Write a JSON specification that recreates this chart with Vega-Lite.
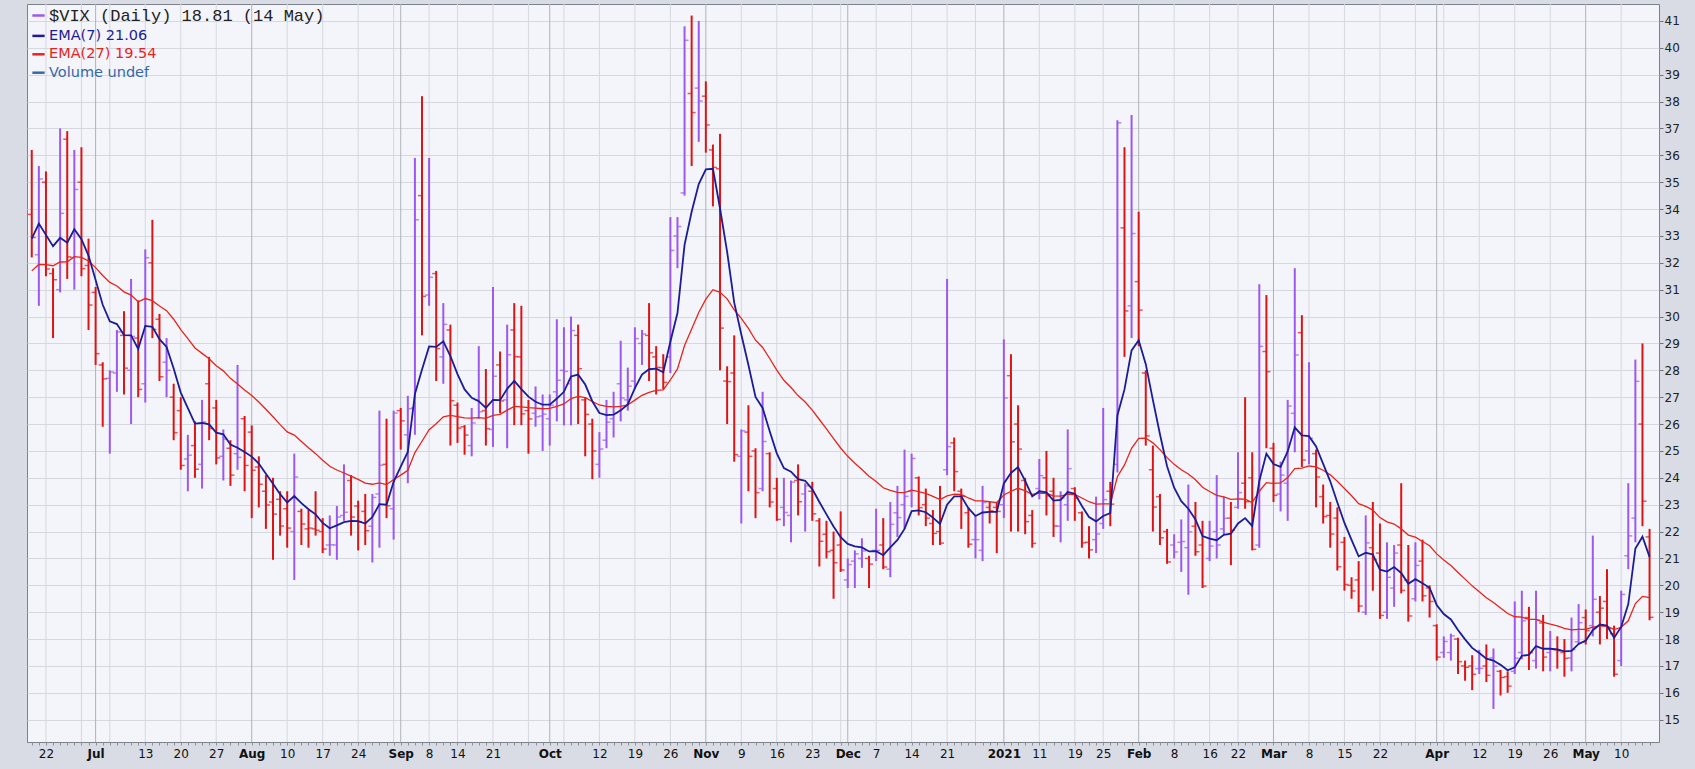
{
"$schema": "https://vega.github.io/schema/vega-lite/v6.json",
"width": 1632, "height": 738,
"autosize": {"type": "none"},
"padding": {"left": 27, "right": 36, "top": 4, "bottom": 27},
"background": "#d9dce4",
"config": {"view": {"fill": "#f4f5fa", "stroke": "#7d8188", "strokeWidth": 1}, "font": "DejaVu Sans"},
"datasets": {
"grid": [
{"d":"2020-06-22","k":"w"},{"d":"2020-06-29","k":"w"},{"d":"2020-07-01","k":"m"},{"d":"2020-07-06","k":"w"},{"d":"2020-07-13","k":"w"},{"d":"2020-07-20","k":"w"},{"d":"2020-07-27","k":"w"},{"d":"2020-08-03","k":"m"},{"d":"2020-08-10","k":"w"},{"d":"2020-08-17","k":"w"},{"d":"2020-08-24","k":"w"},{"d":"2020-08-31","k":"w"},{"d":"2020-09-01","k":"m"},{"d":"2020-09-08","k":"w"},{"d":"2020-09-14","k":"w"},{"d":"2020-09-21","k":"w"},{"d":"2020-09-28","k":"w"},{"d":"2020-10-01","k":"m"},{"d":"2020-10-05","k":"w"},{"d":"2020-10-12","k":"w"},{"d":"2020-10-19","k":"w"},{"d":"2020-10-26","k":"w"},{"d":"2020-11-02","k":"m"},{"d":"2020-11-09","k":"w"},{"d":"2020-11-16","k":"w"},{"d":"2020-11-23","k":"w"},{"d":"2020-11-30","k":"w"},{"d":"2020-12-01","k":"m"},{"d":"2020-12-07","k":"w"},{"d":"2020-12-14","k":"w"},{"d":"2020-12-21","k":"w"},{"d":"2020-12-28","k":"w"},{"d":"2021-01-04","k":"m"},{"d":"2021-01-11","k":"w"},{"d":"2021-01-19","k":"w"},{"d":"2021-01-25","k":"w"},{"d":"2021-02-01","k":"m"},{"d":"2021-02-08","k":"w"},{"d":"2021-02-16","k":"w"},{"d":"2021-02-22","k":"w"},{"d":"2021-03-01","k":"m"},{"d":"2021-03-08","k":"w"},{"d":"2021-03-15","k":"w"},{"d":"2021-03-22","k":"w"},{"d":"2021-03-29","k":"w"},{"d":"2021-04-01","k":"m"},{"d":"2021-04-05","k":"w"},{"d":"2021-04-12","k":"w"},{"d":"2021-04-19","k":"w"},{"d":"2021-04-26","k":"w"},{"d":"2021-05-03","k":"m"},{"d":"2021-05-10","k":"w"}
],
"vix": [
{"d":"2020-06-18","o":33.8,"h":36.2,"l":32.2,"c":32.94,"e7":32.90,"e27":31.70},
{"d":"2020-06-19","o":32.3,"h":35.6,"l":30.4,"c":35.12,"e7":33.46,"e27":31.94},
{"d":"2020-06-22","o":35.0,"h":35.4,"l":31.5,"c":31.77,"e7":33.04,"e27":31.93},
{"d":"2020-06-23","o":31.6,"h":31.8,"l":29.2,"c":31.37,"e7":32.62,"e27":31.89},
{"d":"2020-06-24","o":31.0,"h":37.0,"l":30.9,"c":33.84,"e7":32.93,"e27":32.03},
{"d":"2020-06-25","o":36.6,"h":36.9,"l":31.4,"c":32.22,"e7":32.75,"e27":32.04},
{"d":"2020-06-26","o":32.2,"h":36.2,"l":31.0,"c":34.73,"e7":33.25,"e27":32.23},
{"d":"2020-06-29","o":35.0,"h":36.3,"l":31.5,"c":31.78,"e7":32.88,"e27":32.20},
{"d":"2020-06-30","o":31.9,"h":32.9,"l":29.5,"c":30.43,"e7":32.27,"e27":32.07},
{"d":"2020-07-01","o":30.9,"h":31.1,"l":28.2,"c":28.62,"e7":31.36,"e27":31.82},
{"d":"2020-07-02","o":28.2,"h":28.3,"l":25.9,"c":27.68,"e7":30.44,"e27":31.53},
{"d":"2020-07-06","o":27.7,"h":28.0,"l":24.9,"c":27.94,"e7":29.82,"e27":31.27},
{"d":"2020-07-07","o":27.9,"h":29.5,"l":27.2,"c":29.43,"e7":29.72,"e27":31.14},
{"d":"2020-07-08","o":29.3,"h":30.2,"l":27.1,"c":28.08,"e7":29.31,"e27":30.92},
{"d":"2020-07-09","o":28.0,"h":31.4,"l":26.0,"c":29.26,"e7":29.30,"e27":30.80},
{"d":"2020-07-10","o":29.2,"h":30.6,"l":27.0,"c":27.29,"e7":28.80,"e27":30.55},
{"d":"2020-07-13","o":27.5,"h":32.5,"l":26.8,"c":32.19,"e7":29.65,"e27":30.67},
{"d":"2020-07-14","o":32.0,"h":33.6,"l":29.2,"c":29.52,"e7":29.62,"e27":30.59},
{"d":"2020-07-15","o":29.9,"h":30.1,"l":27.6,"c":27.76,"e7":29.16,"e27":30.39},
{"d":"2020-07-16","o":28.3,"h":29.2,"l":27.0,"c":28.00,"e7":28.87,"e27":30.22},
{"d":"2020-07-17","o":27.0,"h":27.5,"l":25.4,"c":25.68,"e7":28.07,"e27":29.90},
{"d":"2020-07-20","o":26.5,"h":27.0,"l":24.3,"c":24.46,"e7":27.17,"e27":29.51},
{"d":"2020-07-21","o":24.7,"h":25.6,"l":23.5,"c":24.84,"e7":26.59,"e27":29.18},
{"d":"2020-07-22","o":25.2,"h":26.1,"l":24.0,"c":24.32,"e7":26.02,"e27":28.83},
{"d":"2020-07-23","o":24.5,"h":26.9,"l":23.6,"c":26.08,"e7":26.04,"e27":28.63},
{"d":"2020-07-24","o":27.5,"h":28.5,"l":25.4,"c":25.84,"e7":25.99,"e27":28.43},
{"d":"2020-07-27","o":26.6,"h":26.9,"l":24.5,"c":24.74,"e7":25.68,"e27":28.17},
{"d":"2020-07-28","o":24.8,"h":25.8,"l":23.9,"c":25.44,"e7":25.62,"e27":27.98},
{"d":"2020-07-29","o":25.1,"h":25.4,"l":23.7,"c":24.10,"e7":25.24,"e27":27.70},
{"d":"2020-07-30","o":24.9,"h":28.2,"l":24.3,"c":24.76,"e7":25.12,"e27":27.49},
{"d":"2020-07-31","o":26.2,"h":26.3,"l":23.5,"c":24.46,"e7":24.96,"e27":27.27},
{"d":"2020-08-03","o":25.7,"h":25.95,"l":22.5,"c":24.28,"e7":24.79,"e27":27.06},
{"d":"2020-08-04","o":24.4,"h":24.8,"l":22.9,"c":23.76,"e7":24.53,"e27":26.82},
{"d":"2020-08-05","o":23.5,"h":24.1,"l":22.1,"c":22.99,"e7":24.15,"e27":26.55},
{"d":"2020-08-06","o":23.1,"h":24.0,"l":20.95,"c":22.65,"e7":23.78,"e27":26.27},
{"d":"2020-08-07","o":23.2,"h":23.5,"l":21.85,"c":22.21,"e7":23.39,"e27":25.98},
{"d":"2020-08-10","o":22.85,"h":23.5,"l":21.4,"c":22.13,"e7":23.08,"e27":25.71},
{"d":"2020-08-11","o":22.0,"h":24.9,"l":20.2,"c":24.03,"e7":23.32,"e27":25.59},
{"d":"2020-08-12","o":22.75,"h":22.85,"l":21.5,"c":22.28,"e7":23.06,"e27":25.35},
{"d":"2020-08-13","o":22.1,"h":22.8,"l":21.4,"c":22.13,"e7":22.83,"e27":25.12},
{"d":"2020-08-14","o":22.1,"h":23.5,"l":21.85,"c":22.05,"e7":22.64,"e27":24.90},
{"d":"2020-08-17","o":22.0,"h":22.5,"l":21.2,"c":21.35,"e7":22.32,"e27":24.65},
{"d":"2020-08-18","o":21.5,"h":22.6,"l":21.1,"c":21.51,"e7":22.12,"e27":24.43},
{"d":"2020-08-19","o":21.5,"h":22.95,"l":20.95,"c":22.54,"e7":22.23,"e27":24.29},
{"d":"2020-08-20","o":22.6,"h":24.5,"l":22.4,"c":22.72,"e7":22.35,"e27":24.18},
{"d":"2020-08-21","o":23.9,"h":24.1,"l":21.85,"c":22.54,"e7":22.40,"e27":24.06},
{"d":"2020-08-24","o":22.95,"h":23.15,"l":21.3,"c":22.37,"e7":22.39,"e27":23.94},
{"d":"2020-08-25","o":22.75,"h":23.4,"l":21.5,"c":22.03,"e7":22.30,"e27":23.80},
{"d":"2020-08-26","o":22.2,"h":23.4,"l":20.85,"c":23.27,"e7":22.54,"e27":23.76},
{"d":"2020-08-27","o":23.4,"h":26.5,"l":21.4,"c":24.47,"e7":23.02,"e27":23.81},
{"d":"2020-08-28","o":24.5,"h":26.2,"l":22.5,"c":22.96,"e7":23.00,"e27":23.75},
{"d":"2020-08-31","o":22.85,"h":26.5,"l":21.7,"c":26.41,"e7":23.85,"e27":23.94},
{"d":"2020-09-01","o":26.5,"h":26.6,"l":25.05,"c":26.12,"e7":24.42,"e27":24.10},
{"d":"2020-09-02","o":25.6,"h":27.05,"l":23.8,"c":26.57,"e7":24.96,"e27":24.28},
{"d":"2020-09-03","o":26.6,"h":35.9,"l":25.6,"c":33.60,"e7":27.12,"e27":24.94},
{"d":"2020-09-04","o":34.5,"h":38.2,"l":29.3,"c":30.75,"e7":28.03,"e27":25.36},
{"d":"2020-09-08","o":30.8,"h":35.9,"l":30.4,"c":31.46,"e7":28.89,"e27":25.79},
{"d":"2020-09-09","o":31.6,"h":31.7,"l":27.6,"c":28.81,"e7":28.87,"e27":26.01},
{"d":"2020-09-10","o":28.5,"h":30.5,"l":27.5,"c":29.71,"e7":29.08,"e27":26.27},
{"d":"2020-09-11","o":29.5,"h":29.7,"l":25.2,"c":26.87,"e7":28.53,"e27":26.32},
{"d":"2020-09-14","o":26.7,"h":26.8,"l":25.3,"c":25.85,"e7":27.86,"e27":26.28},
{"d":"2020-09-15","o":25.9,"h":25.96,"l":24.86,"c":25.59,"e7":27.29,"e27":26.23},
{"d":"2020-09-16","o":25.2,"h":26.6,"l":24.8,"c":26.04,"e7":26.98,"e27":26.22},
{"d":"2020-09-17","o":26.9,"h":28.9,"l":26.2,"c":26.46,"e7":26.85,"e27":26.24},
{"d":"2020-09-18","o":26.5,"h":28.05,"l":25.2,"c":25.83,"e7":26.60,"e27":26.21},
{"d":"2020-09-21","o":25.8,"h":31.1,"l":25.15,"c":27.78,"e7":26.90,"e27":26.32},
{"d":"2020-09-22","o":28.2,"h":28.7,"l":26.4,"c":26.86,"e7":26.89,"e27":26.36},
{"d":"2020-09-23","o":26.9,"h":29.7,"l":25.1,"c":28.58,"e7":27.31,"e27":26.52},
{"d":"2020-09-24","o":29.5,"h":30.5,"l":25.96,"c":28.51,"e7":27.61,"e27":26.66},
{"d":"2020-09-25","o":28.5,"h":30.4,"l":25.96,"c":26.38,"e7":27.30,"e27":26.64},
{"d":"2020-09-28","o":26.5,"h":26.9,"l":24.9,"c":26.19,"e7":27.02,"e27":26.61},
{"d":"2020-09-29","o":26.4,"h":27.4,"l":25.9,"c":26.27,"e7":26.83,"e27":26.59},
{"d":"2020-09-30","o":26.3,"h":27.1,"l":25.0,"c":26.37,"e7":26.72,"e27":26.57},
{"d":"2020-10-01","o":26.2,"h":27.1,"l":25.2,"c":26.70,"e7":26.72,"e27":26.58},
{"d":"2020-10-02","o":27.2,"h":29.9,"l":26.1,"c":27.63,"e7":26.95,"e27":26.66},
{"d":"2020-10-05","o":28.0,"h":29.6,"l":25.95,"c":27.96,"e7":27.20,"e27":26.75},
{"d":"2020-10-06","o":27.5,"h":30.0,"l":25.95,"c":29.48,"e7":27.77,"e27":26.95},
{"d":"2020-10-07","o":29.3,"h":29.7,"l":26.0,"c":28.06,"e7":27.84,"e27":27.03},
{"d":"2020-10-08","o":26.9,"h":27.0,"l":24.8,"c":26.36,"e7":27.47,"e27":26.98},
{"d":"2020-10-09","o":26.0,"h":26.2,"l":23.95,"c":25.00,"e7":26.85,"e27":26.84},
{"d":"2020-10-12","o":24.5,"h":25.7,"l":24.0,"c":25.07,"e7":26.41,"e27":26.71},
{"d":"2020-10-13","o":25.4,"h":26.9,"l":25.1,"c":26.07,"e7":26.33,"e27":26.66},
{"d":"2020-10-14","o":26.2,"h":27.2,"l":25.5,"c":26.40,"e7":26.35,"e27":26.64},
{"d":"2020-10-15","o":27.5,"h":29.1,"l":26.1,"c":26.97,"e7":26.51,"e27":26.66},
{"d":"2020-10-16","o":26.9,"h":28.1,"l":26.5,"c":27.41,"e7":26.73,"e27":26.71},
{"d":"2020-10-19","o":27.6,"h":29.6,"l":27.3,"c":29.18,"e7":27.34,"e27":26.89},
{"d":"2020-10-20","o":29.0,"h":29.5,"l":28.2,"c":29.35,"e7":27.84,"e27":27.07},
{"d":"2020-10-21","o":29.3,"h":30.5,"l":27.6,"c":28.65,"e7":28.04,"e27":27.18},
{"d":"2020-10-22","o":28.5,"h":28.9,"l":27.1,"c":28.11,"e7":28.06,"e27":27.25},
{"d":"2020-10-23","o":28.1,"h":28.6,"l":27.3,"c":27.55,"e7":27.93,"e27":27.27},
{"d":"2020-10-26","o":28.5,"h":33.7,"l":27.9,"c":32.46,"e7":29.06,"e27":27.64},
{"d":"2020-10-27","o":33.0,"h":33.7,"l":31.8,"c":33.35,"e7":30.13,"e27":28.05},
{"d":"2020-10-28","o":34.6,"h":40.8,"l":34.5,"c":40.28,"e7":32.67,"e27":28.92},
{"d":"2020-10-29","o":38.3,"h":41.2,"l":35.6,"c":37.59,"e7":33.90,"e27":29.54},
{"d":"2020-10-30","o":38.5,"h":41.0,"l":36.5,"c":38.02,"e7":34.93,"e27":30.15},
{"d":"2020-11-02","o":38.2,"h":38.75,"l":36.1,"c":37.13,"e7":35.48,"e27":30.65},
{"d":"2020-11-03","o":36.2,"h":36.4,"l":34.1,"c":35.55,"e7":35.50,"e27":31.00},
{"d":"2020-11-04","o":35.5,"h":36.8,"l":28.0,"c":29.57,"e7":34.02,"e27":30.90},
{"d":"2020-11-05","o":27.6,"h":28.15,"l":26.0,"c":27.58,"e7":32.41,"e27":30.66},
{"d":"2020-11-06","o":27.9,"h":29.3,"l":24.6,"c":24.86,"e7":30.52,"e27":30.25},
{"d":"2020-11-09","o":24.8,"h":25.8,"l":22.3,"c":25.75,"e7":29.33,"e27":29.93},
{"d":"2020-11-10","o":25.7,"h":26.7,"l":23.5,"c":24.80,"e7":28.20,"e27":29.56},
{"d":"2020-11-11","o":25.0,"h":25.1,"l":22.5,"c":23.45,"e7":27.01,"e27":29.12},
{"d":"2020-11-12","o":23.6,"h":27.2,"l":23.5,"c":25.35,"e7":26.60,"e27":28.85},
{"d":"2020-11-13","o":24.9,"h":24.95,"l":22.9,"c":23.10,"e7":25.73,"e27":28.44},
{"d":"2020-11-16","o":23.6,"h":24.0,"l":22.4,"c":22.45,"e7":24.91,"e27":28.01},
{"d":"2020-11-17","o":22.9,"h":24.0,"l":22.2,"c":22.71,"e7":24.36,"e27":27.63},
{"d":"2020-11-18","o":22.6,"h":23.9,"l":21.6,"c":23.84,"e7":24.23,"e27":27.36},
{"d":"2020-11-19","o":23.9,"h":24.5,"l":22.6,"c":23.11,"e7":23.95,"e27":27.06},
{"d":"2020-11-20","o":23.4,"h":23.8,"l":22.0,"c":23.70,"e7":23.89,"e27":26.82},
{"d":"2020-11-23","o":23.5,"h":23.85,"l":22.4,"c":22.66,"e7":23.58,"e27":26.52},
{"d":"2020-11-24","o":22.4,"h":22.5,"l":20.7,"c":21.64,"e7":23.10,"e27":26.17},
{"d":"2020-11-25","o":21.9,"h":22.4,"l":21.0,"c":21.25,"e7":22.64,"e27":25.82},
{"d":"2020-11-27","o":21.3,"h":22.0,"l":19.5,"c":20.84,"e7":22.19,"e27":25.46},
{"d":"2020-11-30","o":21.5,"h":22.75,"l":20.5,"c":20.57,"e7":21.79,"e27":25.11},
{"d":"2020-12-01","o":20.2,"h":21.0,"l":19.9,"c":20.77,"e7":21.54,"e27":24.80},
{"d":"2020-12-02","o":20.9,"h":21.3,"l":19.9,"c":21.17,"e7":21.45,"e27":24.54},
{"d":"2020-12-03","o":21.0,"h":21.75,"l":20.65,"c":21.28,"e7":21.41,"e27":24.31},
{"d":"2020-12-04","o":21.0,"h":21.1,"l":19.9,"c":20.79,"e7":21.26,"e27":24.06},
{"d":"2020-12-07","o":21.3,"h":22.85,"l":20.9,"c":21.30,"e7":21.27,"e27":23.86},
{"d":"2020-12-08","o":21.5,"h":22.5,"l":20.6,"c":20.68,"e7":21.12,"e27":23.63},
{"d":"2020-12-09","o":20.6,"h":23.1,"l":20.3,"c":22.27,"e7":21.41,"e27":23.53},
{"d":"2020-12-10","o":22.7,"h":23.7,"l":21.8,"c":22.52,"e7":21.69,"e27":23.46},
{"d":"2020-12-11","o":23.0,"h":25.05,"l":22.1,"c":23.31,"e7":22.10,"e27":23.45},
{"d":"2020-12-14","o":23.5,"h":24.9,"l":22.9,"c":24.72,"e7":22.76,"e27":23.54},
{"d":"2020-12-15","o":24.0,"h":24.05,"l":22.6,"c":22.89,"e7":22.79,"e27":23.49},
{"d":"2020-12-16","o":23.0,"h":23.6,"l":22.2,"c":22.50,"e7":22.72,"e27":23.42},
{"d":"2020-12-17","o":22.3,"h":22.8,"l":21.5,"c":21.93,"e7":22.52,"e27":23.31},
{"d":"2020-12-18","o":22.0,"h":23.7,"l":21.5,"c":21.57,"e7":22.28,"e27":23.19},
{"d":"2020-12-21","o":24.3,"h":31.4,"l":24.1,"c":25.16,"e7":23.00,"e27":23.33},
{"d":"2020-12-22","o":25.3,"h":25.5,"l":23.5,"c":24.23,"e7":23.31,"e27":23.39},
{"d":"2020-12-23","o":23.5,"h":23.6,"l":22.1,"c":23.31,"e7":23.31,"e27":23.38},
{"d":"2020-12-24","o":22.7,"h":22.9,"l":21.4,"c":21.53,"e7":22.87,"e27":23.25},
{"d":"2020-12-28","o":21.7,"h":22.6,"l":21.0,"c":21.70,"e7":22.58,"e27":23.14},
{"d":"2020-12-29","o":21.3,"h":23.7,"l":20.9,"c":23.08,"e7":22.71,"e27":23.14},
{"d":"2020-12-30","o":22.9,"h":23.1,"l":22.3,"c":22.77,"e7":22.73,"e27":23.11},
{"d":"2020-12-31","o":22.9,"h":23.1,"l":21.2,"c":22.75,"e7":22.73,"e27":23.08},
{"d":"2021-01-04","o":23.0,"h":29.15,"l":22.5,"c":26.97,"e7":23.79,"e27":23.36},
{"d":"2021-01-05","o":27.8,"h":28.6,"l":22.0,"c":25.34,"e7":24.18,"e27":23.50},
{"d":"2021-01-06","o":26.0,"h":26.7,"l":22.0,"c":25.07,"e7":24.40,"e27":23.61},
{"d":"2021-01-07","o":23.9,"h":24.0,"l":21.9,"c":22.37,"e7":23.89,"e27":23.52},
{"d":"2021-01-08","o":22.6,"h":22.8,"l":21.4,"c":21.56,"e7":23.31,"e27":23.38},
{"d":"2021-01-11","o":23.6,"h":24.7,"l":23.2,"c":24.08,"e7":23.50,"e27":23.43},
{"d":"2021-01-12","o":24.0,"h":25.0,"l":22.6,"c":23.33,"e7":23.46,"e27":23.42},
{"d":"2021-01-13","o":23.5,"h":24.0,"l":21.8,"c":22.21,"e7":23.15,"e27":23.33},
{"d":"2021-01-14","o":22.2,"h":23.5,"l":21.6,"c":23.25,"e7":23.18,"e27":23.32},
{"d":"2021-01-15","o":23.0,"h":25.8,"l":22.4,"c":24.34,"e7":23.47,"e27":23.39},
{"d":"2021-01-19","o":23.6,"h":23.65,"l":22.4,"c":23.24,"e7":23.41,"e27":23.38},
{"d":"2021-01-20","o":22.7,"h":22.75,"l":21.4,"c":21.58,"e7":22.95,"e27":23.25},
{"d":"2021-01-21","o":21.6,"h":22.2,"l":21.0,"c":21.32,"e7":22.54,"e27":23.11},
{"d":"2021-01-22","o":21.7,"h":23.3,"l":21.2,"c":21.91,"e7":22.38,"e27":23.02},
{"d":"2021-01-25","o":22.3,"h":26.6,"l":22.1,"c":23.19,"e7":22.58,"e27":23.03},
{"d":"2021-01-26","o":23.5,"h":23.85,"l":22.2,"c":23.02,"e7":22.69,"e27":23.03},
{"d":"2021-01-27","o":24.5,"h":37.3,"l":24.2,"c":37.21,"e7":26.32,"e27":24.04},
{"d":"2021-01-28","o":33.3,"h":36.3,"l":28.5,"c":30.21,"e7":27.29,"e27":24.48},
{"d":"2021-01-29","o":30.4,"h":37.5,"l":29.2,"c":33.09,"e7":28.74,"e27":25.10},
{"d":"2021-02-01","o":31.3,"h":33.9,"l":28.9,"c":30.24,"e7":29.12,"e27":25.47},
{"d":"2021-02-02","o":27.9,"h":28.0,"l":25.2,"c":25.56,"e7":28.23,"e27":25.48},
{"d":"2021-02-03","o":24.3,"h":25.2,"l":22.0,"c":22.91,"e7":26.90,"e27":25.30},
{"d":"2021-02-04","o":23.3,"h":23.4,"l":21.5,"c":21.77,"e7":25.62,"e27":25.05},
{"d":"2021-02-05","o":22.0,"h":22.1,"l":20.8,"c":20.87,"e7":24.43,"e27":24.75},
{"d":"2021-02-08","o":21.5,"h":21.9,"l":21.0,"c":21.24,"e7":23.63,"e27":24.50},
{"d":"2021-02-09","o":21.6,"h":22.45,"l":20.5,"c":21.63,"e7":23.13,"e27":24.30},
{"d":"2021-02-10","o":21.4,"h":23.75,"l":19.65,"c":21.99,"e7":22.85,"e27":24.14},
{"d":"2021-02-11","o":22.2,"h":23.1,"l":21.1,"c":21.25,"e7":22.45,"e27":23.93},
{"d":"2021-02-12","o":21.5,"h":22.4,"l":19.9,"c":19.97,"e7":21.83,"e27":23.65},
{"d":"2021-02-16","o":21.0,"h":22.4,"l":20.9,"c":21.46,"e7":21.74,"e27":23.49},
{"d":"2021-02-17","o":22.0,"h":24.1,"l":21.0,"c":21.50,"e7":21.68,"e27":23.35},
{"d":"2021-02-18","o":22.1,"h":23.3,"l":21.9,"c":22.49,"e7":21.88,"e27":23.29},
{"d":"2021-02-19","o":22.5,"h":23.1,"l":20.75,"c":22.05,"e7":21.92,"e27":23.20},
{"d":"2021-02-22","o":22.9,"h":24.95,"l":22.85,"c":23.45,"e7":22.30,"e27":23.22},
{"d":"2021-02-23","o":23.8,"h":27.0,"l":22.85,"c":23.11,"e7":22.50,"e27":23.21},
{"d":"2021-02-24","o":24.0,"h":24.95,"l":21.3,"c":21.34,"e7":22.21,"e27":23.08},
{"d":"2021-02-25","o":21.5,"h":31.2,"l":21.4,"c":28.89,"e7":23.88,"e27":23.50},
{"d":"2021-02-26","o":28.7,"h":30.8,"l":25.1,"c":27.95,"e7":24.90,"e27":23.82},
{"d":"2021-03-01","o":25.1,"h":25.3,"l":23.1,"c":23.35,"e7":24.51,"e27":23.79},
{"d":"2021-03-02","o":23.4,"h":24.6,"l":22.75,"c":24.10,"e7":24.41,"e27":23.81},
{"d":"2021-03-03","o":23.8,"h":26.9,"l":22.4,"c":26.67,"e7":24.98,"e27":24.01},
{"d":"2021-03-04","o":26.4,"h":31.8,"l":24.95,"c":28.57,"e7":25.88,"e27":24.34},
{"d":"2021-03-05","o":29.4,"h":30.05,"l":24.4,"c":24.66,"e7":25.58,"e27":24.36},
{"d":"2021-03-08","o":25.0,"h":28.3,"l":24.5,"c":25.47,"e7":25.55,"e27":24.44},
{"d":"2021-03-09","o":24.9,"h":25.05,"l":22.9,"c":24.03,"e7":25.17,"e27":24.41},
{"d":"2021-03-10","o":23.3,"h":23.75,"l":22.3,"c":22.56,"e7":24.52,"e27":24.28},
{"d":"2021-03-11","o":22.6,"h":23.1,"l":21.4,"c":21.91,"e7":23.87,"e27":24.11},
{"d":"2021-03-12","o":22.5,"h":22.9,"l":20.55,"c":20.69,"e7":23.08,"e27":23.87},
{"d":"2021-03-15","o":21.6,"h":21.8,"l":19.8,"c":20.03,"e7":22.32,"e27":23.60},
{"d":"2021-03-16","o":20.0,"h":20.3,"l":19.5,"c":19.79,"e7":21.69,"e27":23.33},
{"d":"2021-03-17","o":20.2,"h":20.9,"l":19.0,"c":19.23,"e7":21.08,"e27":23.04},
{"d":"2021-03-18","o":19.0,"h":22.6,"l":18.9,"c":21.58,"e7":21.21,"e27":22.94},
{"d":"2021-03-19","o":21.4,"h":23.1,"l":19.8,"c":20.95,"e7":21.15,"e27":22.80},
{"d":"2021-03-22","o":21.2,"h":22.3,"l":18.75,"c":18.88,"e7":20.58,"e27":22.52},
{"d":"2021-03-23","o":19.0,"h":21.6,"l":18.75,"c":20.30,"e7":20.51,"e27":22.36},
{"d":"2021-03-24","o":19.9,"h":21.5,"l":19.2,"c":21.20,"e7":20.68,"e27":22.28},
{"d":"2021-03-25","o":21.5,"h":23.8,"l":19.7,"c":19.81,"e7":20.46,"e27":22.10},
{"d":"2021-03-26","o":20.2,"h":21.5,"l":18.65,"c":18.86,"e7":20.06,"e27":21.87},
{"d":"2021-03-29","o":19.5,"h":21.6,"l":19.4,"c":20.74,"e7":20.23,"e27":21.79},
{"d":"2021-03-30","o":20.9,"h":21.7,"l":19.4,"c":19.61,"e7":20.08,"e27":21.63},
{"d":"2021-03-31","o":19.9,"h":20.0,"l":18.8,"c":19.40,"e7":19.91,"e27":21.47},
{"d":"2021-04-01","o":18.5,"h":18.55,"l":17.2,"c":17.33,"e7":19.27,"e27":21.17},
{"d":"2021-04-05","o":17.5,"h":18.1,"l":17.3,"c":17.91,"e7":18.93,"e27":20.94},
{"d":"2021-04-06","o":17.5,"h":18.2,"l":17.2,"c":18.12,"e7":18.73,"e27":20.74},
{"d":"2021-04-07","o":18.0,"h":18.05,"l":16.7,"c":17.16,"e7":18.34,"e27":20.48},
{"d":"2021-04-08","o":17.0,"h":17.2,"l":16.45,"c":16.95,"e7":17.99,"e27":20.23},
{"d":"2021-04-09","o":17.0,"h":17.4,"l":16.1,"c":16.69,"e7":17.67,"e27":19.98},
{"d":"2021-04-12","o":16.9,"h":17.6,"l":16.7,"c":16.91,"e7":17.48,"e27":19.76},
{"d":"2021-04-13","o":17.0,"h":17.8,"l":16.4,"c":16.65,"e7":17.27,"e27":19.54},
{"d":"2021-04-14","o":17.3,"h":17.65,"l":15.4,"c":16.99,"e7":17.20,"e27":19.36},
{"d":"2021-04-15","o":16.8,"h":16.85,"l":15.9,"c":16.57,"e7":17.04,"e27":19.16},
{"d":"2021-04-16","o":16.6,"h":16.8,"l":16.0,"c":16.25,"e7":16.84,"e27":18.95},
{"d":"2021-04-19","o":16.8,"h":19.4,"l":16.7,"c":17.29,"e7":16.95,"e27":18.83},
{"d":"2021-04-20","o":17.5,"h":19.8,"l":17.25,"c":18.68,"e7":17.38,"e27":18.82},
{"d":"2021-04-21","o":18.8,"h":19.2,"l":16.85,"c":17.50,"e7":17.41,"e27":18.73},
{"d":"2021-04-22","o":17.2,"h":19.8,"l":16.9,"c":18.71,"e7":17.74,"e27":18.73},
{"d":"2021-04-23","o":18.6,"h":18.9,"l":16.8,"c":17.33,"e7":17.64,"e27":18.63},
{"d":"2021-04-26","o":17.5,"h":18.3,"l":16.8,"c":17.64,"e7":17.64,"e27":18.56},
{"d":"2021-04-27","o":17.6,"h":18.1,"l":16.9,"c":17.56,"e7":17.62,"e27":18.49},
{"d":"2021-04-28","o":17.5,"h":18.0,"l":16.6,"c":17.28,"e7":17.54,"e27":18.40},
{"d":"2021-04-29","o":17.3,"h":18.8,"l":16.8,"c":17.61,"e7":17.56,"e27":18.34},
{"d":"2021-04-30","o":17.9,"h":19.3,"l":17.8,"c":18.61,"e7":17.82,"e27":18.36},
{"d":"2021-05-03","o":18.8,"h":19.1,"l":17.8,"c":18.31,"e7":17.94,"e27":18.36},
{"d":"2021-05-04","o":18.5,"h":21.85,"l":18.1,"c":19.48,"e7":18.33,"e27":18.44},
{"d":"2021-05-05","o":19.0,"h":19.6,"l":17.8,"c":19.15,"e7":18.54,"e27":18.49},
{"d":"2021-05-06","o":19.4,"h":20.6,"l":18.0,"c":18.39,"e7":18.50,"e27":18.48},
{"d":"2021-05-07","o":18.2,"h":18.5,"l":16.6,"c":16.69,"e7":18.05,"e27":18.35},
{"d":"2021-05-10","o":17.2,"h":19.8,"l":17.0,"c":19.66,"e7":18.45,"e27":18.44},
{"d":"2021-05-11","o":21.1,"h":23.8,"l":20.6,"c":21.84,"e7":19.30,"e27":18.68},
{"d":"2021-05-12","o":22.5,"h":28.4,"l":21.6,"c":27.59,"e7":21.37,"e27":19.32},
{"d":"2021-05-13","o":26.0,"h":29.0,"l":22.2,"c":23.13,"e7":21.81,"e27":19.59},
{"d":"2021-05-14","o":21.8,"h":22.1,"l":18.7,"c":18.81,"e7":21.06,"e27":19.54}
]
},
"layer": [
{
"data": {"name": "grid"},
"mark": {"type": "rule", "strokeWidth": 1},
"encoding": {
"x": {"field": "d", "type": "ordinal",
"scale": {"type": "point", "padding": 1.093, "align": 0.335},
"axis": {"title": null, "orient": "bottom", "domain": false, "grid": false, "ticks": true, "tickSize": 3, "tickColor": "#8c9098", "labelOverlap": false, "labelAngle": 0, "labelPadding": 3, "labelFont": "DejaVu Sans", "labelFontSize": 12, "labelColor": "#111111",
"labelExpr": "{'2020-06-22':'22','2020-07-01':'Jul','2020-07-13':'13','2020-07-20':'20','2020-07-27':'27','2020-08-03':'Aug','2020-08-10':'10','2020-08-17':'17','2020-08-24':'24','2020-09-01':'Sep','2020-09-08':'8','2020-09-14':'14','2020-09-21':'21','2020-10-01':'Oct','2020-10-12':'12','2020-10-19':'19','2020-10-26':'26','2020-11-02':'Nov','2020-11-09':'9','2020-11-16':'16','2020-11-23':'23','2020-12-01':'Dec','2020-12-07':'7','2020-12-14':'14','2020-12-21':'21','2021-01-04':'2021','2021-01-11':'11','2021-01-19':'19','2021-01-25':'25','2021-02-01':'Feb','2021-02-08':'8','2021-02-16':'16','2021-02-22':'22','2021-03-01':'Mar','2021-03-08':'8','2021-03-15':'15','2021-03-22':'22','2021-04-01':'Apr','2021-04-12':'12','2021-04-19':'19','2021-04-26':'26','2021-05-03':'May','2021-05-10':'10'}[datum.value] || ''",
"labelFontWeight": {"condition": {"test": "indexof(['2020-07-01','2020-08-03','2020-09-01','2020-10-01','2020-11-02','2020-12-01','2021-01-04','2021-02-01','2021-03-01','2021-04-01','2021-05-03'], datum.value) >= 0", "value": "bold"}, "value": "normal"}
}},
"color": {"condition": {"test": "datum.k == 'm'", "value": "#aeb2ba"}, "value": "#d5d8df"}
}
},
{
"data": {"name": "vix"},
"transform": [{"window": [{"op": "lag", "field": "c", "as": "pc"}], "sort": [{"field": "d", "order": "ascending"}]}],
"layer": [
{
"mark": {"type": "rule", "strokeWidth": 2},
"encoding": {
"x": {"field": "d", "type": "ordinal"},
"y": {"field": "l", "type": "quantitative",
"scale": {"domain": [14.17, 41.63], "nice": false, "zero": false},
"axis": {"title": null, "orient": "right", "values": [15,16,17,18,19,20,21,22,23,24,25,26,27,28,29,30,31,32,33,34,35,36,37,38,39,40,41], "tickCount": 40, "format": "d", "labelOverlap": false, "grid": true, "gridColor": "#d5d8df", "domain": false, "tickSize": 4, "tickColor": "#6d7178", "labelPadding": 1, "labelFont": "DejaVu Sans", "labelFontSize": 12, "labelColor": "#222222"}},
"y2": {"field": "h"},
"color": {"condition": {"test": "datum.pc == null || datum.c < datum.pc", "value": "#dd1414"}, "value": "#9b59ee"}
}
},
{
"mark": {"type": "tick", "orient": "horizontal", "size": 4, "thickness": 1.5, "xOffset": -2},
"encoding": {
"x": {"field": "d", "type": "ordinal"},
"y": {"field": "o", "type": "quantitative"},
"color": {"condition": {"test": "datum.pc == null || datum.c < datum.pc", "value": "#dd1414"}, "value": "#9b59ee"}
}
},
{
"mark": {"type": "tick", "orient": "horizontal", "size": 4, "thickness": 1.5, "xOffset": 2},
"encoding": {
"x": {"field": "d", "type": "ordinal"},
"y": {"field": "c", "type": "quantitative"},
"color": {"condition": {"test": "datum.pc == null || datum.c < datum.pc", "value": "#dd1414"}, "value": "#9b59ee"}
}
},
{
"mark": {"type": "line", "strokeWidth": 1.3},
"encoding": {
"x": {"field": "d", "type": "ordinal"},
"y": {"field": "e27", "type": "quantitative"},
"color": {"datum": "e27", "type": "nominal"}
}
},
{
"mark": {"type": "line", "strokeWidth": 1.8},
"encoding": {
"x": {"field": "d", "type": "ordinal"},
"y": {"field": "e7", "type": "quantitative"},
"color": {"datum": "e7", "type": "nominal",
"scale": {"domain": ["vix", "e7", "e27", "vol"], "range": ["#9b59ee", "#1c1c96", "#e8231c", "#3568ad"]},
"legend": {"title": null, "orient": "top-left", "offset": 4, "padding": 0, "symbolType": "stroke", "symbolSize": 150, "symbolStrokeWidth": 2.5, "labelOffset": 3, "rowPadding": 3.4, "labelLimit": 0,
"labelExpr": "{'vix':'$VIX (Daily) 18.81 (14 May)','e7':'EMA(7) 21.06','e27':'EMA(27) 19.54','vol':'Volume undef'}[datum.value]",
"labelFont": {"expr": "datum.value == 'vix' ? 'Liberation Mono' : 'DejaVu Sans'"},
"labelFontSize": {"expr": "datum.value == 'vix' ? 17 : 14.5"},
"labelColor": {"expr": "datum.value == 'vix' ? '#222222' : datum.value == 'e7' ? '#1c1c96' : datum.value == 'e27' ? '#e8231c' : '#3568ad'"}}
}
}
}
]
}
]
}
